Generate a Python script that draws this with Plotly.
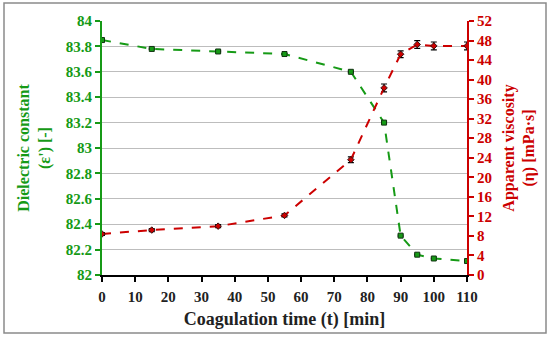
import plotly.graph_objects as go

time_min = [0, 15, 35, 55, 75, 85, 90, 95, 100, 110]
dielectric = [83.85, 83.78, 83.76, 83.74, 83.60, 83.20, 82.31, 82.16, 82.13, 82.11]
dielectric_err = [0.004, 0.004, 0.004, 0.004, 0.005, 0.005, 0.005, 0.004, 0.004, 0.004]
viscosity = [8.4, 9.2, 10.0, 12.2, 23.6, 38.3, 45.2, 47.2, 46.9, 46.9]
viscosity_err = [0.3, 0.3, 0.3, 0.3, 0.6, 0.8, 0.7, 0.8, 0.8, 0.8]

GREEN = "#169a16"
RED = "#cc0000"
FONT = "Liberation Serif"

fig = go.Figure()
fig.add_trace(go.Scatter(
    x=time_min, y=dielectric, mode="lines+markers",
    line=dict(color=GREEN, width=2, dash="dash"),
    marker=dict(symbol="square", size=5, color=GREEN, line=dict(color="#113311", width=1)),
    error_y=dict(type="data", array=dielectric_err, color="black", thickness=1.2, width=3),
    showlegend=False,
))
fig.add_trace(go.Scatter(
    x=time_min, y=viscosity, mode="lines+markers", yaxis="y2",
    line=dict(color=RED, width=2, dash="dash"),
    marker=dict(symbol="diamond", size=5, color=RED, line=dict(color="#331111", width=1)),
    error_y=dict(type="data", array=viscosity_err, color="black", thickness=1.2, width=3),
    showlegend=False,
))

fig.update_layout(
    width=550, height=339,
    margin=dict(l=102, r=83, t=21, b=64, autoexpand=False),
    paper_bgcolor="white", plot_bgcolor="white",
    font=dict(family=FONT, size=15, color="black", weight="bold"),
    xaxis=dict(
        range=[0, 110], tickvals=list(range(0, 111, 10)), automargin=False,
        showline=True, linecolor="black", linewidth=2,
        ticks="outside", ticklen=5, tickcolor="black", tickwidth=2,
        ticklabelstandoff=2,
        showgrid=False, zeroline=False,
        tickfont=dict(family=FONT, size=15, color="#222222", weight="bold"),
        title=dict(text="Coagulation time (t) [min]", standoff=8,
                   font=dict(family=FONT, size=18, color="#222222", weight="bold")),
    ),
    yaxis=dict(
        range=[82, 84], dtick=0.2, tickformat="~g", automargin=False,
        showline=True, linecolor=GREEN, linewidth=2,
        ticks="outside", ticklen=5, tickcolor=GREEN, tickwidth=2,
        showgrid=True, gridcolor="#bdbdbd", gridwidth=1, zeroline=False,
        tickfont=dict(family=FONT, size=15, color=GREEN, weight="bold"),
        title=dict(text="Dielectric constant<br>(ε') [-]", standoff=11,
                   font=dict(family=FONT, size=16, color=GREEN, weight="bold")),
    ),
    yaxis2=dict(
        range=[0, 52], dtick=4, overlaying="y", side="right", automargin=False,
        showline=True, linecolor=RED, linewidth=2,
        ticks="outside", ticklen=5, tickcolor=RED, tickwidth=2,
        showgrid=False, zeroline=False,
        tickfont=dict(family=FONT, size=15, color=RED, weight="bold"),
        title=dict(text="Apparent viscosity<br>(η) [mPa·s]", standoff=11,
                   font=dict(family=FONT, size=16, color=RED, weight="bold")),
    ),
)

fig.add_shape(type="rect", xref="paper", yref="paper",
              x0=-98/365, x1=1 + 79/365, y0=-58/254, y1=1 + 18/254,
              line=dict(color="#8a8a8a", width=1.5), fillcolor="rgba(0,0,0,0)", layer="below")

fig.write_html(
    "out.html",
    post_script=(
        "document.body.style.margin='0';document.body.style.overflow='hidden';"
        "var st=document.createElement('style');st.textContent='.modebar-container{display:none !important;}';"
        "document.head.appendChild(st);"
    ),
)
